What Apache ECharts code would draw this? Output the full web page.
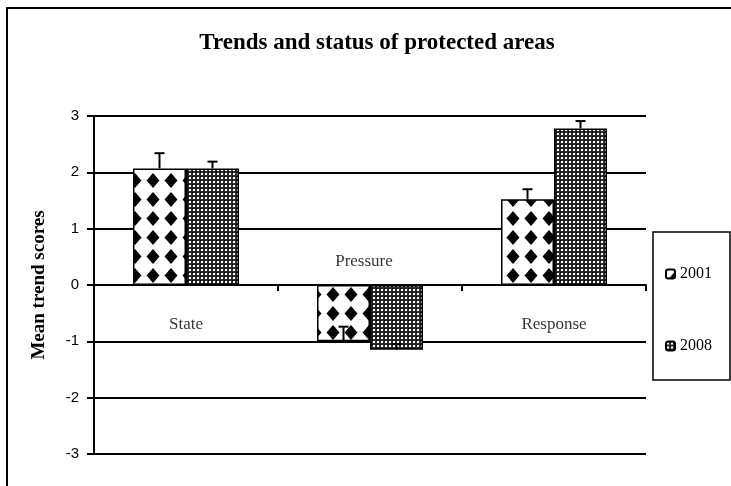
<!DOCTYPE html>
<html>
<head>
<meta charset="utf-8">
<script src="https://cdn.jsdelivr.net/npm/echarts@6/dist/echarts.min.js"></script>
<style>html,body{margin:0;padding:0;background:#fff;}#c{width:731px;height:486px;}</style>
</head>
<body>
<div id="c"></div>
<script>
const categories = ['State', 'Pressure', 'Response'];
const seriesNames = ['2001', '2008'];
const values2001 = [2.07, -1.0, 1.52];
const values2008 = [2.07, -1.15, 2.78];
const err2001 = [0.27, 0.26, 0.18];
const err2008 = [0.12, 0.10, 0.13];
const yTicks = [-3, -2, -1, 0, 1, 2, 3];

function diamondPattern() {
  const c = document.createElement('canvas');
  c.width = 18; c.height = 19;
  const g = c.getContext('2d');
  g.fillStyle = '#fff'; g.fillRect(0, 0, 18, 19);
  g.fillStyle = '#000';
  g.beginPath();
  g.moveTo(9, 2); g.lineTo(15.5, 9.5); g.lineTo(9, 17); g.lineTo(2.5, 9.5);
  g.closePath(); g.fill();
  return c;
}
function checkPattern() {
  const c = document.createElement('canvas');
  c.width = 4; c.height = 4;
  const g = c.getContext('2d');
  g.fillStyle = '#2a2a2a'; g.fillRect(0, 0, 4, 4);
  g.fillStyle = '#fff'; g.fillRect(1, 1, 2, 2);
  g.fillStyle = '#000'; g.fillRect(0, 0, 1, 1);
  return c;
}

const BAR_W = 53;
const labelOffsets = [[0, 40], [-6, -23], [0, 40]];

const chart = echarts.init(document.getElementById('c'), null, {renderer: 'canvas'});

function errSeries(vals, errs, side) {
  return {
    type: 'custom',
    z: 10,
    silent: true,
    data: vals.map((v, i) => [i, v, v + errs[i]]),
    renderItem: function (params, api) {
      const p0 = api.coord([api.value(0), api.value(1)]);
      const p1 = api.coord([api.value(0), api.value(2)]);
      const x = p0[0] + side * BAR_W / 2;
      return {
        type: 'group',
        children: [
          {type: 'line', shape: {x1: x, y1: p0[1], x2: x, y2: p1[1]}, style: {stroke: '#000', lineWidth: 2}},
          {type: 'line', shape: {x1: x - 5, y1: p1[1], x2: x + 5, y2: p1[1]}, style: {stroke: '#000', lineWidth: 2}}
        ]
      };
    }
  };
}

const option = {
  animation: false,
  backgroundColor: '#fff',
  title: {
    text: 'Trends and status of protected areas',
    left: 372, top: 27, textAlign: 'center',
    textStyle: {fontFamily: 'Liberation Serif', fontWeight: 'bold', fontSize: 23, color: '#000'}
  },
  graphic: [{
    type: 'rect', shape: {x: 7, y: 8, width: 800, height: 600},
    style: {fill: 'none', stroke: '#000', lineWidth: 2}, silent: true
  }],
  legend: {
    orient: 'vertical',
    left: 653, top: 232,
    padding: [34, 18, 26, 12],
    itemGap: 56,
    itemWidth: 9, itemHeight: 9,
    borderColor: '#000', borderWidth: 1.5,
    textStyle: {fontFamily: 'Liberation Serif', fontSize: 16, color: '#000'},
    data: seriesNames
  },
  grid: {left: 94, right: 85, top: 116, bottom: 32, containLabel: false},
  xAxis: {
    type: 'category',
    data: categories,
    axisLine: {onZero: true, lineStyle: {color: '#000', width: 2}},
    axisTick: {show: true, length: 6, lineStyle: {color: '#000', width: 2}},
    axisLabel: {show: false},
    splitLine: {show: false}
  },
  yAxis: {
    type: 'value',
    min: yTicks[0], max: yTicks[yTicks.length - 1], interval: 1,
    name: 'Mean trend scores',
    nameLocation: 'middle', nameRotate: 90, nameGap: 45,
    nameTextStyle: {fontFamily: 'Liberation Serif', fontWeight: 'bold', fontSize: 19, color: '#000'},
    axisLine: {show: true, lineStyle: {color: '#000', width: 2}},
    axisTick: {show: true, length: 7, lineStyle: {color: '#000', width: 2}},
    axisLabel: {fontFamily: 'Liberation Sans', fontSize: 15, color: '#000', margin: 15},
    splitLine: {show: true, lineStyle: {color: '#000', width: 2}}
  },
  series: [
    {
      name: seriesNames[0], type: 'bar', data: values2001,
      barWidth: BAR_W, barGap: '0%',
      itemStyle: {color: {image: diamondPattern(), repeat: 'repeat'}, borderColor: '#000', borderWidth: 1.5}
    },
    {
      name: seriesNames[1], type: 'bar', data: values2008,
      barWidth: BAR_W, barGap: '0%',
      itemStyle: {color: {image: checkPattern(), repeat: 'repeat'}, borderColor: '#000', borderWidth: 1.5}
    },
    errSeries(values2001, err2001, -1),
    errSeries(values2008, err2008, 1),
    {
      type: 'scatter', symbolSize: 0, silent: true, z: 20,
      data: categories.map((c, i) => ({
        value: [i, 0],
        label: {
          show: true, position: 'inside', offset: labelOffsets[i],
          formatter: c,
          fontFamily: 'Liberation Serif', fontSize: 17, color: '#000'
        }
      }))
    }
  ]
};
chart.setOption(option);
</script>
</body>
</html>
